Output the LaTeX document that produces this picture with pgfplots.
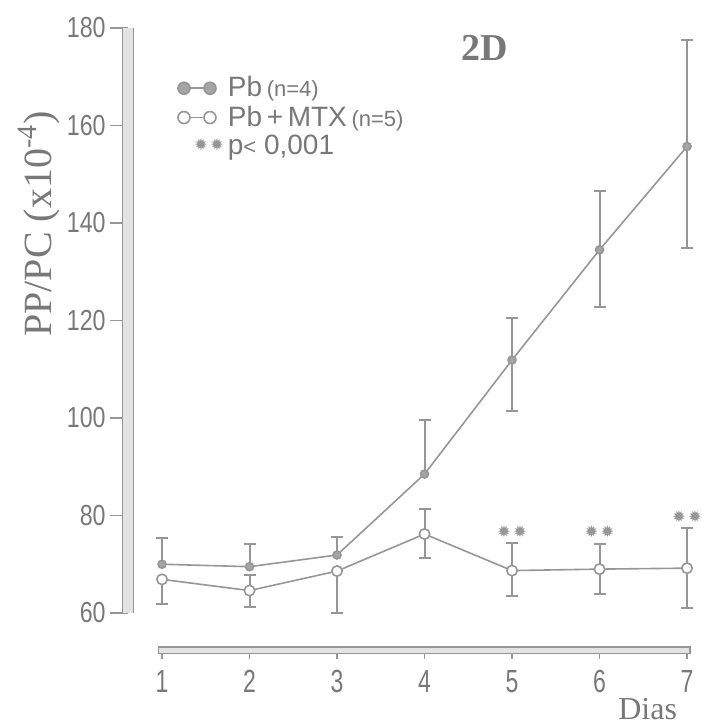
\documentclass[border=0pt]{standalone}
\usepackage{fontspec}
\setmainfont{Liberation Serif}
\newfontfamily\condsans[FakeStretch=0.8]{Liberation Sans}
\newfontfamily\condsansx[FakeStretch=0.72]{Liberation Sans}
\newfontfamily\sans{Liberation Sans}
\newfontfamily\symfont{DejaVu Sans}
\usepackage{pgfplots}
\pgfplotsset{compat=1.18}
\definecolor{tg}{RGB}{120,120,120}
\definecolor{lg}{RGB}{150,150,150}
\definecolor{fg}{RGB}{165,165,165}
\newcommand{\stars}{{\symfont\fontsize{8}{8}\selectfont ✹\,✹}}
\begin{document}
\begin{tikzpicture}
\begin{axis}[name=A, scale only axis, width=287pt, height=292.5pt,
  xmin=0.611, xmax=7.171, ymin=60, ymax=180,
  axis x line=none, axis y line*=left, clip=false,
  ytick={60,80,...,180},
  tick align=outside, major tick length=9pt,
  every tick/.style={draw=lg, line width=0.7pt},
  axis line style={draw=lg, line width=0.6pt, double=gray!22, double distance=5pt},
  /pgf/number format/assume math mode=true,
  yticklabel style={font=\condsans\fontsize{14.5}{14.5}\selectfont, text=tg, inner sep=1pt, xshift=-1pt},
  ylabel={PP/PC (x10\textsuperscript{-4})},
  ylabel style={at={(axis description cs:-0.155,0.665)}, anchor=center, font=\fontsize{20}{20}\selectfont, text=tg},
  legend style={draw=none, fill=none, at={(rel axis cs:0.085,0.921)}, anchor=north west,
    font=\sans\fontsize{14}{14}\selectfont, text=tg, row sep=1pt, inner sep=0pt,
    nodes={inner ysep=1pt, inner xsep=2pt}},
  legend cell align=left,
]
% error bars
\addplot[forget plot, draw=none, mark=none, error bars/.cd, y dir=plus, y explicit,
  error bar style={lg, line width=1pt}, error mark options={lg, line width=1pt, mark size=3pt, rotate=90}]
  coordinates {(1,70) +- (0,5.4) (2,69.5) +- (0,4.7) (3,71.9) +- (0,3.7) (4,88.5) +- (0,11.1)};
\addplot[forget plot, draw=none, mark=none, error bars/.cd, y dir=both, y explicit,
  error bar style={lg, line width=1pt}, error mark options={lg, line width=1pt, mark size=3pt, rotate=90}]
  coordinates {(5,111.9) += (0,8.7) -= (0,10.5) (6,134.5) += (0,12.1) -= (0,11.7) (7,155.7) += (0,21.8) -= (0,20.8)};
\addplot[forget plot, draw=none, mark=none, error bars/.cd, y dir=minus, y explicit,
  error bar style={lg, line width=1pt}, error mark options={lg, line width=1pt, mark size=3pt, rotate=90}]
  coordinates {(1,66.9) +- (0,5.1) (3,68.6) +- (0,8.6)};
\addplot[forget plot, draw=none, mark=none, error bars/.cd, y dir=both, y explicit,
  error bar style={lg, line width=1pt}, error mark options={lg, line width=1pt, mark size=3pt, rotate=90}]
  coordinates {(2,64.6) += (0,3.2) -= (0,3.4) (4,76.2) += (0,5.1) -= (0,4.9) (5,68.7) += (0,5.6) -= (0,5.2) (6,69) += (0,5.1) -= (0,5) (7,69.2) += (0,8.2) -= (0,8.2)};
% Pb
\addplot[lg, line width=0.8pt, mark=*, mark size=2pt, mark options={fill=fg, draw=lg},
  legend image code/.code={\draw[lg, line width=0.8pt] (0pt,0pt) -- (13pt,0pt);
    \draw[lg, fill=fg] (0pt,0pt) circle (3pt) (13pt,0pt) circle (3pt);}]
  coordinates {(1,70) (2,69.5) (3,71.9) (4,88.5) (5,111.9) (6,134.5) (7,155.7)};
\addlegendentry{Pb\,{\fontsize{11}{11}\selectfont(n=4)}}
% Pb + MTX
\addplot[lg, line width=0.8pt, mark=*, mark size=2.6pt, mark options={fill=white, draw=lg, line width=0.8pt},
  legend image code/.code={\draw[lg, line width=0.8pt] (0pt,0pt) -- (13pt,0pt);
    \draw[lg, fill=white, line width=0.8pt] (0pt,0pt) circle (3pt) (13pt,0pt) circle (3pt);}]
  coordinates {(1,66.9) (2,64.6) (3,68.6) (4,76.2) (5,68.7) (6,69) (7,69.2)};
\addlegendentry{Pb\,+\,MTX\,{\fontsize{11}{11}\selectfont(n=5)}}
\addlegendimage{legend image code/.code={\node[text=lg, anchor=west, inner sep=0pt] at (5pt,0pt) {\stars};}}
\addlegendentry{p{\fontsize{11}{11}\selectfont<} 0,001}
% significance stars
\node[text=lg] at (axis cs:5,76.6) {\stars};
\node[text=lg] at (axis cs:6,76.6) {\stars};
\node[text=lg] at (axis cs:7,79.8) {\stars};
\node[text=tg, font=\bfseries\fontsize{19}{19}\selectfont] at (axis cs:4.69,176) {2D};
\end{axis}
\begin{axis}[at={(A.south west)}, anchor=south west, xshift=17pt, yshift=-18.5pt,
  scale only axis, width=262.5pt, height=1pt,
  xmin=1, xmax=7, ymin=0, ymax=1,
  axis y line=none, axis x line*=bottom, clip=false,
  xtick={1,...,7}, tick align=outside, major tick length=4.5pt,
  every tick/.style={draw=lg, line width=0.7pt},
  axis line style={draw=lg, line width=0.6pt, double=gray!22, double distance=2.5pt, line cap=rect},
  /pgf/number format/assume math mode=true,
  xticklabel style={font=\condsansx\fontsize{16}{16}\selectfont, text=tg, inner sep=1pt, yshift=-4.5pt},
]
\node[text=tg, font=\fontsize{16}{16}\selectfont] at (axis cs:6.55,0) [yshift=-29.5pt] {Dias};
\end{axis}
\pgfresetboundingbox
\path[use as bounding box] ([xshift=-64pt,yshift=-56pt]A.south west) rectangle ([yshift=14pt]A.north east);
\end{tikzpicture}
\end{document}
